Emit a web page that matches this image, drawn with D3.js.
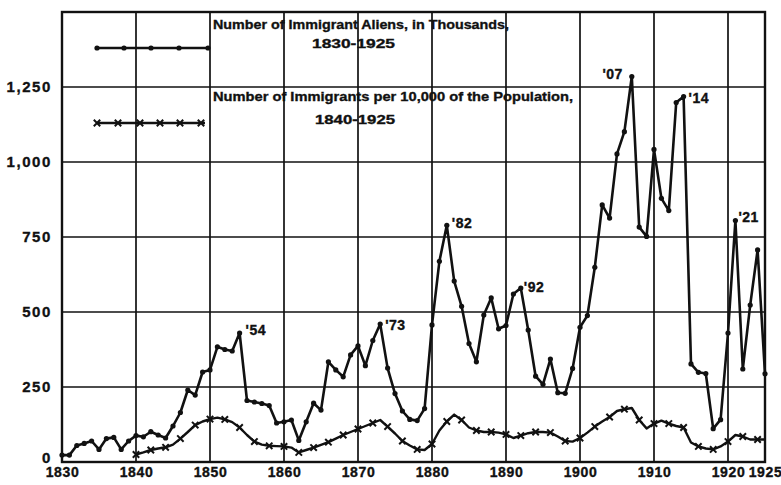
<!DOCTYPE html>
<html>
<head>
<meta charset="utf-8">
<script src="https://cdn.jsdelivr.net/npm/d3@7"></script>
<style>
  body { margin: 0; background: #fff; }
  svg text { font-family: "Liberation Sans", Arial, sans-serif; font-weight: bold; fill: #111; stroke: #111; stroke-width: 0.35px; }
</style>
</head>
<body>
<div id="chart"></div>
<script>
// years shown on the horizontal axis
var xTicks = [1830, 1840, 1850, 1860, 1870, 1880, 1890, 1900, 1910, 1920, 1925];
var yTicks = [0, 250, 500, 750, 1000, 1250];

// Number of immigrant aliens, thousands, 1830-1925
var alienYears = d3.range(1830, 1926);
var aliens = [
  23, 23, 55, 62, 70, 42, 78, 82, 42, 70,
  88, 84, 101, 90, 80, 120, 165, 240, 223, 300,
  307, 384, 375, 370, 430, 205, 200, 195, 188, 130,
  134, 140, 72, 134, 196, 173, 334, 307, 284, 357,
  387, 321, 405, 460, 313, 228, 170, 142, 138, 178,
  457, 669, 789, 603, 519, 395, 334, 490, 547, 444,
  455, 560, 580, 440, 286, 259, 343, 231, 229, 312,
  449, 488, 649, 857, 813, 1027, 1101, 1285, 783, 752,
  1042, 879, 838, 1198, 1218, 327, 299, 295, 111, 141,
  430, 805, 310, 523, 707, 294
];

// Number of immigrants per 10,000 of the population, 1840-1925
var rateYears = d3.range(1840, 1926);
var rates = [
  25, 32, 40, 45, 49, 58, 78, 100, 123, 135,
  143, 148, 142, 133, 115, 90, 68, 58, 54, 53,
  52, 48, 32, 40, 48, 57, 66, 78, 90, 100,
  110, 120, 130, 140, 118, 95, 70, 55, 42, 40,
  60, 105, 135, 158, 140, 115, 105, 100, 100, 98,
  92, 80, 88, 96, 100, 100, 98, 85, 70, 68,
  80, 98, 118, 135, 150, 170, 176, 180, 140, 112,
  128, 138, 128, 120, 115, 65, 52, 45, 42, 52,
  68, 90, 85, 75, 75, 75
];

// peak labels
var peakYears  = [1854, 1873, 1882, 1892, 1907, 1914, 1921];
var peakLabels = ["'54", "'73", "'82", "'92", "'07", "'14", "'21"];

var width = 781, height = 485;
var margin = {top: 12, right: 16, bottom: 23, left: 62};

var svg = d3.select("#chart").append("svg")
  .attr("width", width)
  .attr("height", height);

var x = d3.scaleLinear().domain([1830, 1925]).range([margin.left, width - margin.right]);
var y = d3.scaleLinear().domain([0, 1500]).range([height - margin.bottom, margin.top]);

// grid
svg.append("g")
  .selectAll("line")
  .data(xTicks.slice(1, -1))
  .enter().append("line")
  .attr("x1", function(d) { return x(d); })
  .attr("x2", function(d) { return x(d); })
  .attr("y1", y(1500))
  .attr("y2", y(0))
  .attr("stroke", "#111")
  .attr("stroke-width", 1.7);

svg.append("g")
  .selectAll("line")
  .data(yTicks.slice(1))
  .enter().append("line")
  .attr("x1", x(1830))
  .attr("x2", x(1925))
  .attr("y1", function(d) { return y(d); })
  .attr("y2", function(d) { return y(d); })
  .attr("stroke", "#111")
  .attr("stroke-width", 1.7);

// frame
svg.append("rect")
  .attr("x", x(1830))
  .attr("y", y(1500))
  .attr("width", x(1925) - x(1830))
  .attr("height", y(0) - y(1500))
  .attr("fill", "none")
  .attr("stroke", "#111")
  .attr("stroke-width", 2.4);

// axes labels
var yAxis = d3.axisLeft(y).tickValues(yTicks).tickSize(0).tickPadding(10)
  .tickFormat(d3.format(","));
svg.append("g")
  .attr("transform", "translate(" + x(1830) + ",0)")
  .call(yAxis)
  .call(function(g) { g.select(".domain").remove(); })
  .selectAll("text")
  .attr("font-size", "15px")
  .attr("letter-spacing", "1.6px")
  .attr("font-family", null)
  .attr("fill", "#111")
  .attr("dy", function(d) { return d == 0 ? "0.0em" : "0.32em"; });

var xAxis = d3.axisBottom(x).tickValues(xTicks).tickSize(0).tickPadding(5)
  .tickFormat(d3.format("d"));
svg.append("g")
  .attr("transform", "translate(0," + y(0) + ")")
  .call(xAxis)
  .call(function(g) { g.select(".domain").remove(); })
  .selectAll("text")
  .attr("font-size", "14px")
  .attr("letter-spacing", "0.6px")
  .attr("font-family", null)
  .attr("fill", "#111");

// series lines
var alienLine = d3.line()
  .x(function(d, i) { return x(alienYears[i]); })
  .y(function(d) { return y(d); });

var rateLine = d3.line()
  .x(function(d, i) { return x(rateYears[i]); })
  .y(function(d) { return y(d); });

svg.append("path")
  .attr("d", rateLine(rates))
  .attr("fill", "none")
  .attr("stroke", "#111")
  .attr("stroke-width", 2.4)
  .attr("stroke-linejoin", "round");

svg.append("path")
  .attr("d", alienLine(aliens))
  .attr("fill", "none")
  .attr("stroke", "#111")
  .attr("stroke-width", 2.6)
  .attr("stroke-linejoin", "round");

// dots on alien series
svg.append("g")
  .selectAll("circle")
  .data(aliens)
  .enter().append("circle")
  .attr("cx", function(d, i) { return x(alienYears[i]); })
  .attr("cy", function(d) { return y(d); })
  .attr("r", 2.6)
  .attr("fill", "#111");

// x marks on rate series, every other year
function xMark(g, cx, cy, s) {
  g.append("path")
    .attr("d", "M" + (cx - s) + "," + (cy - s) + "L" + (cx + s) + "," + (cy + s) +
               "M" + (cx - s) + "," + (cy + s) + "L" + (cx + s) + "," + (cy - s))
    .attr("stroke", "#111")
    .attr("stroke-width", 2);
}
var marks = svg.append("g");
rates.forEach(function(d, i) {
  if (rateYears[i] % 2 == 0)
    xMark(marks, x(rateYears[i]), y(d), 3.2);
});

// peak labels
var labelOffsets = {
  1854: [6, 2, "start"], 1873: [5, 6, "start"], 1882: [5, 3, "start"],
  1892: [3, 4, "start"], 1907: [-9, 2, "end"], 1914: [5, 6, "start"],
  1921: [3, 1, "start"]
};
peakYears.forEach(function(yr, i) {
  var v = aliens[alienYears.indexOf(yr)];
  var o = labelOffsets[yr];
  svg.append("text")
    .attr("x", x(yr) + o[0])
    .attr("y", y(v) + o[1])
    .attr("text-anchor", o[2])
    .attr("font-size", "14px")
    .attr("letter-spacing", "0.5px")
    .text(peakLabels[i]);
});

// legend
var leg = svg.append("g");
leg.append("line")
  .attr("x1", 97).attr("x2", 208).attr("y1", 48).attr("y2", 48)
  .attr("stroke", "#111").attr("stroke-width", 2.4);
[97, 124, 151, 179, 208].forEach(function(cx) {
  leg.append("circle").attr("cx", cx).attr("cy", 48).attr("r", 2.6).attr("fill", "#111");
});
leg.append("line")
  .attr("x1", 97).attr("x2", 205).attr("y1", 123).attr("y2", 123)
  .attr("stroke", "#111").attr("stroke-width", 2.4);
[97, 118, 140, 160, 180, 201].forEach(function(cx) {
  xMark(leg, cx, 123, 3.2);
});

function legText(tx, ty, w, s) {
  leg.append("text")
    .attr("x", tx).attr("y", ty)
    .attr("font-size", "13px")
    .attr("textLength", w)
    .attr("lengthAdjust", "spacingAndGlyphs")
    .text(s);
}
legText(213, 29, 296, "Number of Immigrant Aliens, in Thousands,");
legText(312, 48, 83, "1830-1925");
legText(213, 101, 360, "Number of Immigrants per 10,000 of the Population,");
legText(315, 124, 80, "1840-1925");
</script>
</body>
</html>
